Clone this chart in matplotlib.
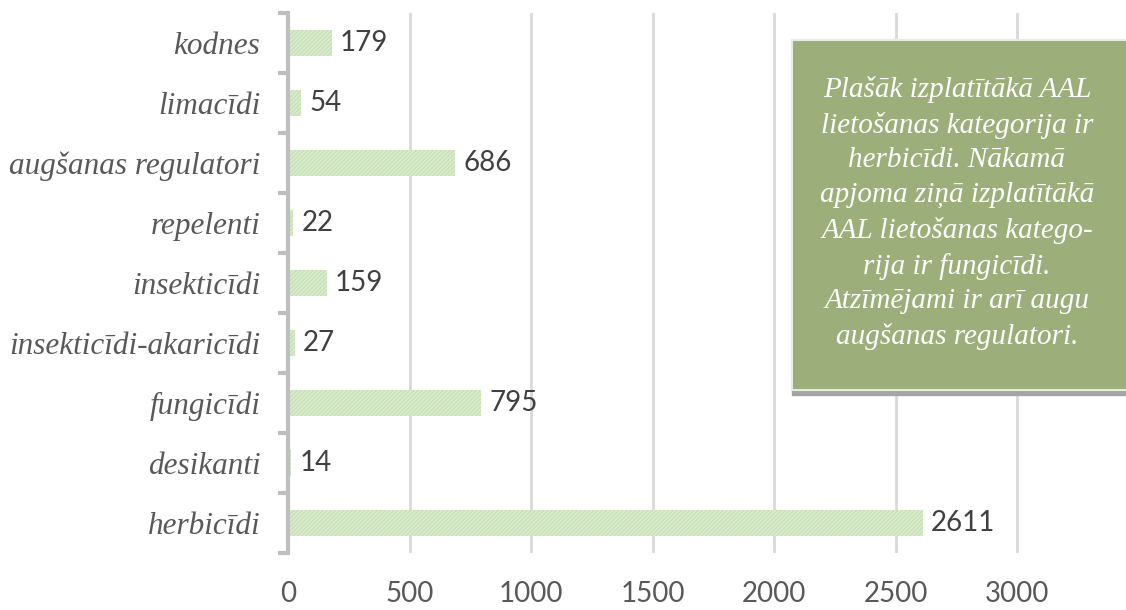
import matplotlib
matplotlib.use("Agg")
import matplotlib.pyplot as plt
from matplotlib.patches import Rectangle

# dati (no apakšas uz augšu)
categories = ["herbicīdi", "desikanti", "fungicīdi", "insekticīdi-akaricīdi",
              "insekticīdi", "repelenti", "augšanas regulatori", "limacīdi", "kodnes"]
values = [2611, 14, 795, 27, 159, 22, 686, 54, 179]
x_ticks = [0, 500, 1000, 1500, 2000, 2500, 3000]
note = ("Plašāk izplatītākā AAL\nlietošanas kategorija ir\nherbicīdi. Nākamā\n"
        "apjoma ziņā izplatītākā\nAAL lietošanas katego-\nrija ir fungicīdi.\n"
        "Atzīmējami ir arī augu\naugšanas regulatori.")

plt.rcParams["hatch.linewidth"] = 1.0
plt.rcParams["hatch.color"] = "#a3cf87"

fig = plt.figure(figsize=(11.26, 6.10), dpi=100)
ax = fig.add_axes([288/1126, 1-553/610, (1090-288)/1126, (553-13)/610])

y = range(len(categories))
ax.barh(y, values, height=0.42, color="#dcecd1", edgecolor="#c5e0b3",
        linewidth=0, hatch="////////")

# datu etiķetes
for yi, v in zip(y, values):
    ax.annotate(str(v), (v, yi), xytext=(6, 0), textcoords="offset points",
                va="center", ha="left", fontsize=20, color="#404040",
                family=["Lato", "DejaVu Sans"])

ax.set_xlim(0, 3300)
ax.set_ylim(-0.5, len(categories) - 0.5)
ax.set_xticks(x_ticks)
ax.set_xticklabels([str(t) for t in x_ticks], fontsize=20, color="#595959",
                   family=["Lato", "DejaVu Sans"])
ax.set_yticks(list(y))
ax.set_yticklabels(categories, fontsize=22.5, color="#595959",
                   family="Liberation Serif", style="italic")
ax.tick_params(axis="y", which="major", length=0, pad=20)
ax.tick_params(axis="x", length=0, pad=20)
ax.set_yticks([i - 0.5 for i in range(len(categories) + 1)], minor=True)
ax.tick_params(axis="y", which="minor", length=7, width=3, color="#bfbfbf")

ax.grid(axis="x", color="#d9d9d9", linewidth=2)
ax.set_axisbelow(True)
for s in ["top", "right", "bottom"]:
    ax.spines[s].set_visible(False)
ax.spines["left"].set_color("#bfbfbf")
ax.spines["left"].set_linewidth(3)

# teksta lodziņš ar ēnu
fig.patches.append(Rectangle((792/1126, 1-395/610), 340/1126, 350/610,
                             transform=fig.transFigure, color="#a5a5a5", zorder=5))
fig.patches.append(Rectangle((792/1126, 1-390/610), 340/1126, 350/610,
                             transform=fig.transFigure, facecolor="#9caf7a",
                             edgecolor="#e8ece0", linewidth=1.5, zorder=6))
fig.text(957/1126, 1-213/610, note, ha="center", va="center", fontsize=21,
         color="white", family="Liberation Serif", style="italic",
         linespacing=1.42, zorder=7)

fig.savefig("out.png", dpi=100)
